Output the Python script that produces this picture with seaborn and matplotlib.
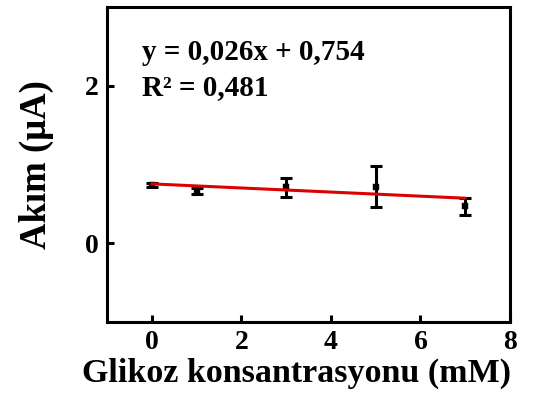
import numpy as np
import pandas as pd
import matplotlib
matplotlib.use("Agg")
import matplotlib.pyplot as plt
import seaborn as sns

# Data
concentration = [0, 1, 3, 5, 7]
current = [0.74, 0.66, 0.71, 0.72, 0.47]
error = [0.025, 0.04, 0.12, 0.26, 0.11]
fit_slope = -0.026
fit_intercept = 0.754
fit_x = [0, 7]
x_ticks = [0, 2, 4, 6, 8]
y_ticks = [0, 2]
eq_text = "y = 0,026x + 0,754"
r2_text = "R² = 0,481"
xlabel = "Glikoz konsantrasyonu (mM)"
ylabel = "Akım (μA)"

sns.set_style("ticks")
plt.rcParams['font.family'] = ['Liberation Serif', 'DejaVu Serif']
plt.rcParams['font.weight'] = 'bold'
plt.rcParams['text.color'] = 'black'
plt.rcParams['axes.labelcolor'] = 'black'
plt.rcParams['xtick.color'] = 'black'
plt.rcParams['ytick.color'] = 'black'
plt.rcParams['axes.edgecolor'] = 'black'

fig = plt.figure(figsize=(5.51, 3.96), dpi=100)
ax = fig.add_axes([107/551, 1 - 322/396, (510-107)/551, (322-7)/396])

df = pd.DataFrame({"x": concentration, "y": current, "err": error})
fit_df = pd.DataFrame({"x": fit_x, "y": [fit_intercept + fit_slope * v for v in fit_x]})

ax.errorbar(df["x"], df["y"], yerr=df["err"], fmt='none', ecolor='black',
            elinewidth=2.2, capsize=4, capthick=2.2, zorder=2)
sns.scatterplot(data=df, x="x", y="y", ax=ax, color='black', marker='s', s=14,
                edgecolor='black', zorder=3)
sns.lineplot(data=fit_df, x="x", y="y", ax=ax, color='#dd0000', linewidth=2.2, zorder=4)

ax.set_xlim(-1, 8)
ax.set_ylim(-1, 3)
ax.set_xticks(x_ticks)
ax.set_yticks(y_ticks)
ax.tick_params(direction='in', length=5, width=2.2, labelsize=20, pad=6, colors='black')
for lbl in ax.get_xticklabels() + ax.get_yticklabels():
    lbl.set_fontweight('bold')
for sp in ax.spines.values():
    sp.set_linewidth(2.2)
    sp.set_visible(True)
    sp.set_color('black')

ax.set_xlabel(xlabel, fontsize=24.5, fontweight='bold', color='black')
ax.xaxis.set_label_coords(0.471, -0.115, transform=ax.transAxes)
ax.xaxis.label.set_va('top')
ax.set_ylabel(ylabel, fontsize=26.5, fontweight='bold', labelpad=22, color='black')

ax.text(0.087, 0.857, eq_text, transform=ax.transAxes, fontsize=21, fontweight='bold',
        va='center', color='black')
ax.text(0.087, 0.743, r2_text, transform=ax.transAxes, fontsize=21, fontweight='bold',
        va='center', color='black')

fig.savefig("out.png", dpi=100)
